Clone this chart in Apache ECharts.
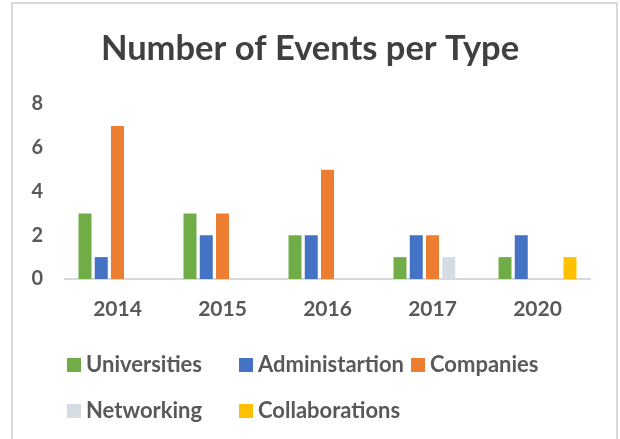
<!DOCTYPE html>
<html>
<head>
<meta charset="utf-8">
<script src="https://cdn.jsdelivr.net/npm/echarts@6/dist/echarts.min.js"></script>
<style>
  html, body { margin: 0; padding: 0; background: #fff; }
  #chart { width: 620px; height: 439px; }
</style>
</head>
<body>
<div id="chart"></div>
<script>
const years = ['2014', '2015', '2016', '2017', '2020']
const universities = [3, 3, 2, 1, 1]
const administartion = [1, 2, 2, 2, 2]
const companies = [7, 3, 5, 2, 0]
const networking = [0, 0, 0, 1, 0]
const collaborations = [0, 0, 0, 0, 1]
const yTicks = [0, 2, 4, 6, 8]

const names = ['Universities', 'Administartion', 'Companies', 'Networking', 'Collaborations']
const colors = ['#70AD47', '#4472C4', '#ED7D31', '#D6DCE4', '#FFC000']
const values = [universities, administartion, companies, networking, collaborations]

// legend cells placed like the excel grid (3 columns, 2 rows)
const legendPos = [
  { left: 67, top: 354 },
  { left: 239, top: 354 },
  { left: 411, top: 354 },
  { left: 67, top: 400 },
  { left: 239, top: 400 }
]

const font = 'Lato'
const textColor = '#595959'

const chart = echarts.init(document.getElementById('chart'))

const option = {
  animation: false,
  title: {
    text: 'Number of Events per Type',
    left: 'center',
    top: 26,
    textStyle: {
      fontFamily: font,
      fontWeight: 'bold',
      fontSize: 34.5,
      color: '#404040'
    }
  },
  graphic: [{
    type: 'rect',
    shape: { x: 12, y: 3, width: 605, height: 450 },
    style: { fill: 'none', stroke: '#d9d9d9', lineWidth: 2 },
    silent: true
  }],
  legend: names.map((name, i) => ({
    data: [name],
    left: legendPos[i].left,
    top: legendPos[i].top,
    padding: 0,
    icon: 'rect',
    itemWidth: 14,
    itemHeight: 14,
    textStyle: {
      fontFamily: font,
      fontWeight: 'bold',
      fontSize: 22,
      color: textColor
    }
  })),
  grid: {
    left: 65,
    right: 30,
    top: 104,
    bottom: 160
  },
  xAxis: {
    type: 'category',
    data: years,
    axisTick: { show: false },
    axisLine: { lineStyle: { color: '#d9d9d9', width: 2 } },
    axisLabel: {
      margin: 20,
      fontFamily: font,
      fontWeight: 'bold',
      fontSize: 21,
      color: textColor
    }
  },
  yAxis: {
    type: 'value',
    min: yTicks[0],
    max: yTicks[yTicks.length - 1],
    interval: 2,
    splitLine: { show: false },
    axisLine: { show: false },
    axisTick: { show: false },
    axisLabel: {
      margin: 22,
      fontFamily: font,
      fontWeight: 'bold',
      fontSize: 20,
      color: textColor
    }
  },
  series: names.map((name, i) => ({
    name: name,
    type: 'bar',
    data: values[i],
    barWidth: 13,
    barGap: '25%',
    itemStyle: { color: colors[i] }
  }))
}

chart.setOption(option)
</script>
</body>
</html>
